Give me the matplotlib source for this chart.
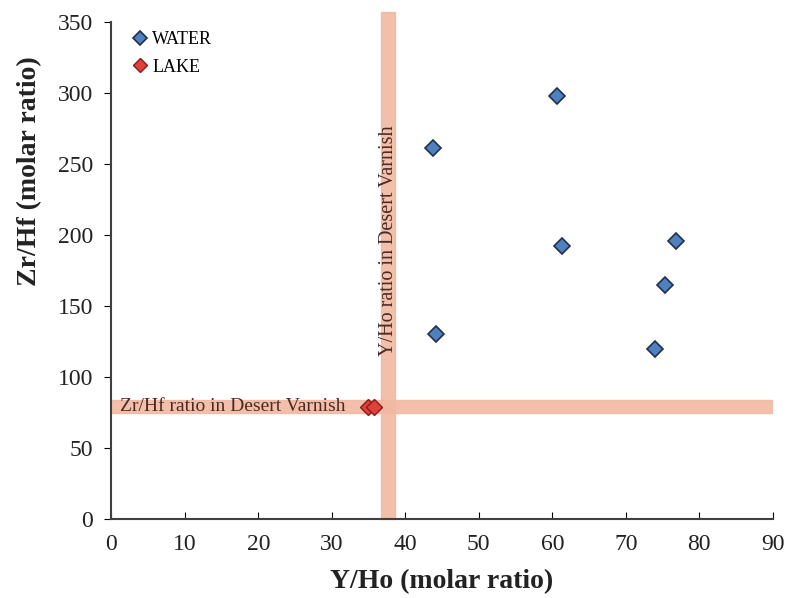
import matplotlib.pyplot as plt
import numpy as np

plt.rcParams['font.family'] = 'Liberation Serif'

# data
water_yho = [43.8, 60.7, 61.3, 76.8, 75.4, 44.2, 74.0]
water_zrhf = [261, 298, 192, 196, 165, 130, 120]
lake_yho = [34.9, 35.7]
lake_zrhf = [79, 79]

# desert varnish reference ranges
yho_band = (36.7, 38.6)
zrhf_band = (75, 84)

fig = plt.figure(figsize=(7.95, 5.98), dpi=100)
ax = fig.add_axes([0.14, 0.132, 0.832, 0.831])

band_col = '#f2b8a2'
ax.axvspan(yho_band[0], yho_band[1], ymin=0, ymax=1.02, color=band_col, alpha=0.9, zorder=1, clip_on=False)
ax.axhspan(zrhf_band[0], zrhf_band[1], xmin=0, xmax=1.0, color=band_col, alpha=0.9, zorder=1)

ax.text(1.2, np.mean(zrhf_band), 'Zr/Hf ratio in Desert Varnish', fontsize=14,
        color='#4a2a22', va='center', ha='left', zorder=2)
ax.text(np.mean(yho_band), 115, 'Y/Ho ratio in Desert Varnish', fontsize=14.5,
        color='#4a2a22', va='bottom', ha='center', rotation=90, zorder=2)

ax.plot(water_yho, water_zrhf, 'D', ms=8.5, mfc='#4f81bd', mec='#1f3050', mew=1.2,
        ls='none', label='WATER', zorder=3)
ax.plot(lake_yho, lake_zrhf, 'D', ms=8.5, mfc='#e0403a', mec='#8a1a1a', mew=1.0,
        ls='none', label='LAKE', zorder=3)

ax.set_xlim(0, 90)
ax.set_ylim(0, 350)
ax.set_xticks(np.arange(0, 91, 10))
ax.set_yticks(np.arange(0, 351, 50))
ax.spines['top'].set_visible(False)
ax.spines['right'].set_visible(False)
ax.spines['left'].set_color('#404040')
ax.spines['bottom'].set_color('#404040')
ax.spines['left'].set_linewidth(1.5)
ax.spines['bottom'].set_linewidth(1.5)
ax.tick_params(axis='x', direction='in', length=5, labelsize=17, pad=11, labelcolor='#222222')
ax.tick_params(axis='y', direction='out', length=5, labelsize=17, pad=8, labelcolor='#222222')

ax.set_xlabel('Y/Ho (molar ratio)', fontsize=20, fontweight='bold', labelpad=10, color='#222222')
ax.set_ylabel('Zr/Hf (molar ratio)', fontsize=20, fontweight='bold', color='#222222')
ax.yaxis.set_label_coords(-0.104, 0.70)

ax.legend(loc='upper left', bbox_to_anchor=(0.003, 1.015), frameon=False, fontsize=13,
          handletextpad=0.05, markerscale=0.8, labelspacing=0.6, handlelength=1.2)

fig.savefig('out.png', dpi=100)
